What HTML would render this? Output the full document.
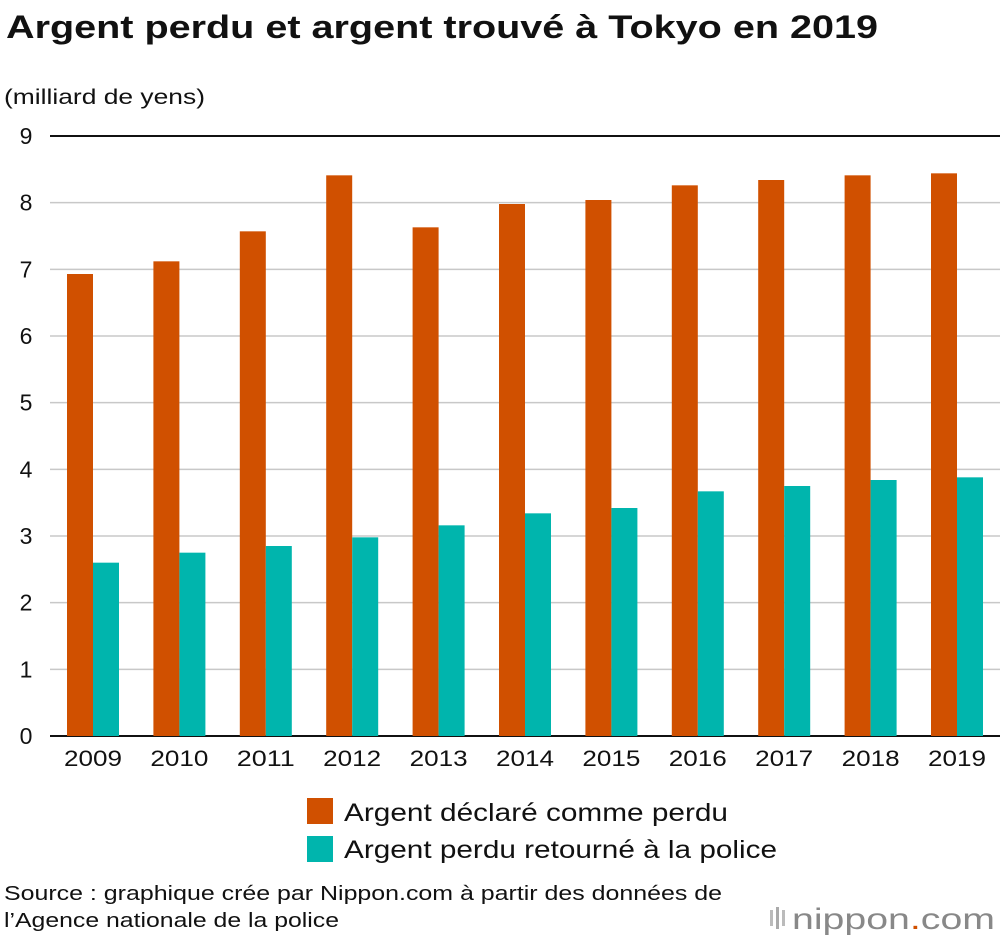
<!DOCTYPE html>
<html><head><meta charset="utf-8"><style>
body{margin:0;background:#fff;font-family:"Liberation Sans",Arial,sans-serif;}
svg{display:block}
</style></head><body>
<svg id="c" width="1000" height="942" xmlns="http://www.w3.org/2000/svg" font-family="Liberation Sans, Arial, sans-serif">
<text x="6" y="38" font-size="32" font-weight="bold" fill="#111" textLength="872" lengthAdjust="spacingAndGlyphs">Argent perdu et argent trouvé à Tokyo en 2019</text>
<text x="4" y="104" font-size="21" fill="#111" textLength="201" lengthAdjust="spacingAndGlyphs">(milliard de yens)</text>
<g id="grid"></g><g id="bars"></g><g id="xl"></g>
<rect x="307" y="798" width="26" height="26" fill="#d05000"/>
<text x="344" y="821" font-size="25" fill="#111" textLength="384" lengthAdjust="spacingAndGlyphs">Argent déclaré comme perdu</text>
<rect x="307" y="836" width="26" height="26" fill="#00b5ad"/>
<text x="344" y="858" font-size="25" fill="#111" textLength="433" lengthAdjust="spacingAndGlyphs">Argent perdu retourné à la police</text>
<text x="4" y="900" font-size="20" fill="#111" textLength="718" lengthAdjust="spacingAndGlyphs">Source : graphique crée par Nippon.com à partir des données de</text>
<text x="4" y="927" font-size="20" fill="#111" textLength="335" lengthAdjust="spacingAndGlyphs">l’Agence nationale de la police</text>
<g>
<rect x="770" y="910" width="3" height="16" fill="#bbb"/><rect x="776" y="907" width="3" height="22" fill="#aaa"/><rect x="782" y="910" width="3" height="16" fill="#bbb"/>
<text x="792" y="929" font-size="30" fill="#888" textLength="203" lengthAdjust="spacingAndGlyphs">nippon<tspan fill="#d05000">.</tspan>com</text>
</g>
</svg>
<script>
const years=["2009","2010","2011","2012","2013","2014","2015","2016","2017","2018","2019"];
const lost=[6.93,7.12,7.57,8.41,7.63,7.98,8.04,8.26,8.34,8.41,8.44];
const returned=[2.6,2.75,2.85,2.98,3.16,3.34,3.42,3.67,3.75,3.84,3.88];
const yTicks=[0,1,2,3,4,5,6,7,8,9];
const NS="http://www.w3.org/2000/svg";
const y0=736,y9=136,left=50,right=1000;
const ys=v=>y0-(y0-y9)*v/9;
const xc=i=>93+i*86.4;
function mk(t,a,p){const e=document.createElementNS(NS,t);for(const k in a)e.setAttribute(k,a[k]);p.appendChild(e);return e;}
const g=document.getElementById('grid');
yTicks.forEach(t=>{
 const l=mk('line',{x1:left,x2:right,y1:ys(t),y2:ys(t),stroke:(t===0||t===9)?'#111':'#c8c8c8','stroke-width':(t===0||t===9)?2:1.5},g);
 
 
 const tx=mk('text',{x:26,y:ys(t)+8,'font-size':23,'text-anchor':'middle',fill:'#111'},g);
 tx.textContent=t;
 
 
});
const b=document.getElementById('bars'),xl=document.getElementById('xl');
years.forEach((yr,i)=>{
 const r1=mk('rect',{x:xc(i)-26,y:ys(lost[i]),width:26,height:y0-ys(lost[i]),fill:'#d05000'},b);
 
 
 const r2=mk('rect',{x:xc(i),y:ys(returned[i]),width:26,height:y0-ys(returned[i]),fill:'#00b5ad'},b);
 
 
 const t=mk('text',{x:xc(i),y:766,'font-size':22,'text-anchor':'middle',fill:'#111',textLength:58,lengthAdjust:'spacingAndGlyphs'},xl);
 t.textContent=yr;
 
 
});
</script>
</body></html>
